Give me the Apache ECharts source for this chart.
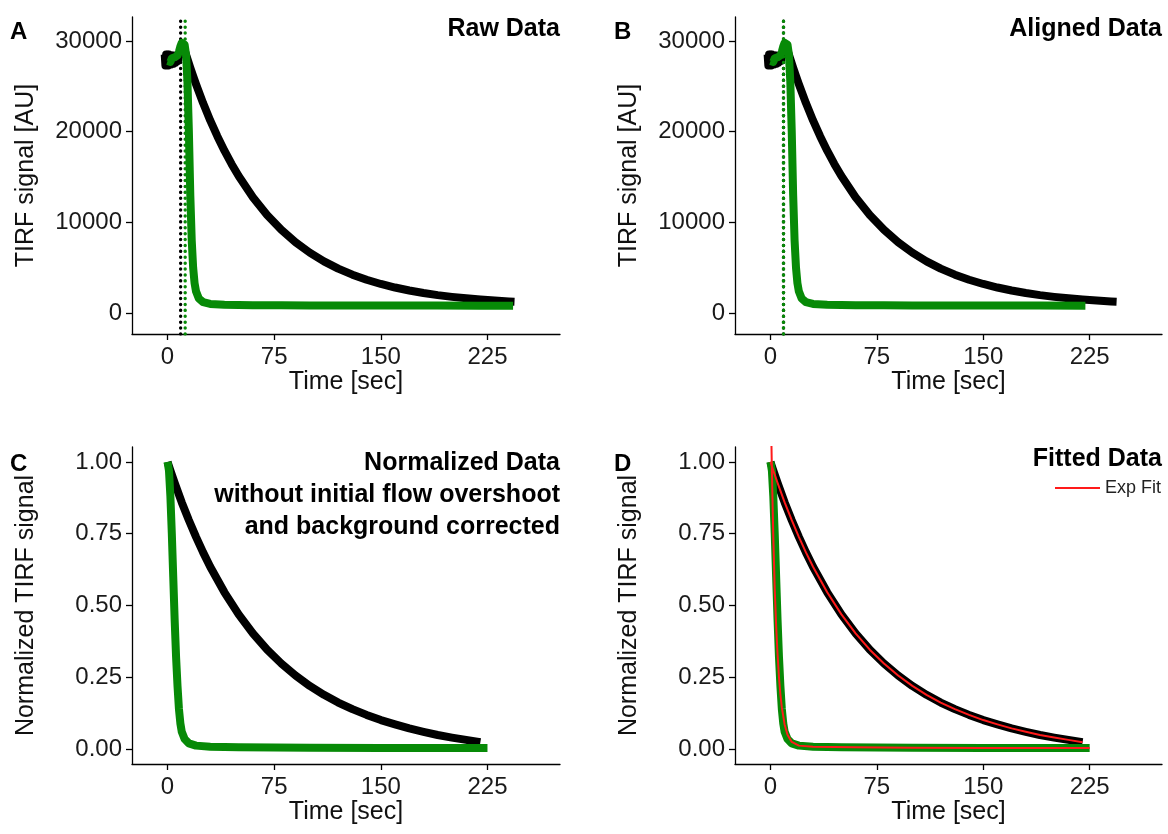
<!DOCTYPE html>
<html><head><meta charset="utf-8">
<script src="https://cdn.jsdelivr.net/npm/echarts@6/dist/echarts.min.js"></script>
<style>html,body{margin:0;padding:0;background:#fff}#c{width:1168px;height:834px}</style>
</head><body><div id="c"></div>
<script>
// ---------- data ----------
const timeTicks = [0, 75, 150, 225];
const rawTicks = [0, 10000, 20000, 30000];
const normTicks = [0, 0.25, 0.5, 0.75, 1.0];

const tRawBlack = [-2,-1.5,-1,-0.5,0,0.5,1,1.5,2,2.5,3,3.5,4,4.5,5,5.5,6,6.5,7,7.5,8,9,10,11,12,14,16,18,20,25,30,35,40,45,50,60,70,80,90,100,110,120,130,140,150,160,170,180,190,200,210,220,230,240,244];
const vRawBlack = [28500,27300,28500,27300,28500,27300,28500,27400,28400,27400,28400,27500,28400,27500,28300,27600,28300,27700,28300,27900,28300,28700,29200,29300,28990,28010,27050,26130,25240,23150,21240,19500,17900,16440,15100,12770,10810,9170,7800,6660,5700,4900,4230,3670,3200,2810,2480,2200,1970,1780,1620,1490,1370,1280,1250];

const tRawGreen = [0,1,2,3,4,5,6,7,8,9,10,11,12,13,14,15,16,17,18,19,20,22,25,30,40,60,80,100,130,160,190,220,243];
const vRawGreen = [27800,28000,27700,28100,27900,28200,28000,28400,28800,29400,29800,29900,29600,28500,25500,20000,13000,8000,5000,3300,2400,1600,1200,1000,900,860,850,840,830,820,820,810,800];

const tAlignGreen = [0,1,2,3,4,5,6,7,8,9,10,11,12,13,14,15,16,17,18,19,20,22,25,30,40,60,80,100,130,160,190,222];
const vAlignGreen = [27800,28000,27700,28100,27900,28200,28000,28400,28800,29400,29800,29900,29600,28500,25500,20000,13000,8000,5000,3300,2400,1600,1200,1000,900,860,850,840,830,820,820,810];

const vlineRawBlack = 9.2;
const vlineRawGreen = 12.4;
const vlineAlign = 9.2;

const tNormBlack = [0,2,5,10,15,20,25,30,40,50,60,70,80,90,100,110,120,130,140,150,160,170,180,190,200,210,220];
const vNormBlack = [1.0,0.97,0.927,0.859,0.797,0.739,0.685,0.635,0.546,0.469,0.403,0.346,0.298,0.256,0.220,0.189,0.162,0.139,0.119,0.101,0.086,0.072,0.060,0.049,0.040,0.032,0.024];

const tNormGreen = [0,1,2,3,4,5,6,7,8,9,10,12,15,20,30,50,100,150,200,225];
const vNormGreen = [1.0,0.97,0.88,0.75,0.6,0.45,0.32,0.22,0.14,0.09,0.06,0.035,0.02,0.012,0.008,0.006,0.005,0.004,0.004,0.004];

const tFitBlack = [0,2,5,10,15,20,25,30,40,50,60,70,80,90,100,110,120,130,140,150,160,170,180,190,200,210,220];
const vFitBlack = [1.0,0.97,0.927,0.859,0.797,0.739,0.685,0.635,0.546,0.469,0.403,0.346,0.298,0.256,0.220,0.189,0.162,0.139,0.119,0.101,0.086,0.072,0.060,0.049,0.040,0.032,0.024];

const tFitGreen = [0,0.5,1,2,3,4,5,6,7,8,10,12,15,20,30,60,100,150,200,225];
const vFitGreen = [1.3,1.12,0.97,0.74,0.56,0.43,0.33,0.25,0.19,0.145,0.085,0.05,0.025,0.012,0.008,0.006,0.005,0.004,0.004,0.004];

// ---------- helpers ----------
const FONT = 'Liberation Sans, Arial, sans-serif';
const zip = (t, v) => t.map((x, i) => [x, v[i]]);
const BLACK = '#000000', GREEN = '#078a07', RED = '#ff1a1a';

function xAxis(grid) {
  return {
    type: 'value', gridIndex: grid, min: -25, max: 276,
    name: 'Time [sec]', nameLocation: 'middle', nameGap: 36,
    nameTextStyle: {fontFamily: FONT, fontSize: 25, color: '#111'},
    axisLine: {onZero: false, lineStyle: {color: '#000', width: 1.3}},
    axisTick: {length: 6, lineStyle: {color: '#000', width: 1.3}, customValues: timeTicks},
    axisLabel: {fontFamily: FONT, fontSize: 24, color: '#1a1a1a', margin: 11, customValues: timeTicks},
    splitLine: {show: false}
  };
}
function yAxis(grid, raw) {
  return {
    type: 'value', gridIndex: grid,
    min: raw ? -2316 : -0.052, max: raw ? 32646 : 1.052,
    name: raw ? 'TIRF signal [AU]' : 'Normalized TIRF signal',
    nameLocation: 'middle', nameRotate: 90, nameGap: 93,
    nameTextStyle: {fontFamily: FONT, fontSize: 25, color: '#111'},
    axisLine: {show: true, onZero: false, lineStyle: {color: '#000', width: 1.3}},
    axisTick: {show: true, length: 6, lineStyle: {color: '#000', width: 1.3}, customValues: raw ? rawTicks : normTicks},
    axisLabel: {fontFamily: FONT, fontSize: 24, color: '#1a1a1a', margin: 10,
      customValues: raw ? rawTicks : normTicks,
      formatter: raw ? (v => String(v)) : (v => v.toFixed(2))},
    splitLine: {show: false}
  };
}
function line(name, xi, data, color, width, extra) {
  return Object.assign({
    name: name, type: 'line', xAxisIndex: xi, yAxisIndex: xi, data: data,
    showSymbol: false, symbol: 'none', clip: true, silent: true, animation: false,
    lineStyle: {color: color, width: width, cap: 'butt', join: 'round'}, itemStyle: {color: color}
  }, extra || {});
}
function vline(xi, x, color, raw) {
  const lo = raw ? -2316 : -0.052, hi = raw ? 32646 : 1.052;
  return line('vl', xi, [[x, lo], [x, hi]], color, 3.4, {lineStyle: {color: color, width: 3.4, type: [0.1, 5.8], cap: 'round'}});
}

const grids = [
  {left: 132, top: 17, width: 428, height: 317},
  {left: 735, top: 17, width: 427, height: 317},
  {left: 132, top: 447, width: 428, height: 317},
  {left: 735, top: 447, width: 427, height: 317}
];

const option = {
  backgroundColor: '#fff',
  animation: false,
  grid: grids,
  xAxis: [xAxis(0), xAxis(1), xAxis(2), xAxis(3)],
  yAxis: [yAxis(0, true), yAxis(1, true), yAxis(2, false), yAxis(3, false)],
  legend: {
    data: ['Exp Fit'], left: 1050, top: 474, icon: 'rect', itemWidth: 45, itemHeight: 2, itemGap: 6,
    textStyle: {fontFamily: FONT, fontSize: 18, color: '#222'}
  },
  series: [
    line('Raw black', 0, zip(tRawBlack, vRawBlack), BLACK, 8),
    vline(0, vlineRawBlack, BLACK, true),
    vline(0, vlineRawGreen, GREEN, true),
    line('Raw green', 0, zip(tRawGreen, vRawGreen), GREEN, 8),

    line('Aligned black', 1, zip(tRawBlack, vRawBlack), BLACK, 8),
    vline(1, vlineAlign, BLACK, true),
    vline(1, vlineAlign, GREEN, true),
    line('Aligned green', 1, zip(tAlignGreen, vAlignGreen), GREEN, 8),

    line('Norm black', 2, zip(tNormBlack, vNormBlack), BLACK, 8),
    line('Norm green', 2, zip(tNormGreen, vNormGreen), GREEN, 8),

    line('Fit black data', 3, zip(tNormBlack, vNormBlack), BLACK, 8),
    line('Fit green data', 3, zip(tNormGreen, vNormGreen), GREEN, 8),
    line('Exp Fit', 3, zip(tFitBlack, vFitBlack), RED, 2),
    line('Exp Fit', 3, zip(tFitGreen, vFitGreen), RED, 2)
  ],
  graphic: [
    {type: 'text', x: 10, y: 20, style: {text: 'A', font: 'bold 24px ' + FONT, fill: '#000'}},
    {type: 'text', x: 614, y: 20, style: {text: 'B', font: 'bold 24px ' + FONT, fill: '#000'}},
    {type: 'text', x: 10, y: 452, style: {text: 'C', font: 'bold 24px ' + FONT, fill: '#000'}},
    {type: 'text', x: 614, y: 452, style: {text: 'D', font: 'bold 24px ' + FONT, fill: '#000'}},
    {type: 'text', x: 560, y: 17, style: {text: 'Raw Data', textAlign: 'right', font: 'bold 25px ' + FONT, fill: '#000'}},
    {type: 'text', x: 1162, y: 17, style: {text: 'Aligned Data', textAlign: 'right', font: 'bold 25px ' + FONT, fill: '#000'}},
    {type: 'text', x: 560, y: 447, style: {text: 'Normalized Data\nwithout initial flow overshoot\nand background corrected', textAlign: 'right', lineHeight: 32, font: 'bold 25px ' + FONT, fill: '#000'}},
    {type: 'text', x: 1162, y: 447, style: {text: 'Fitted Data', textAlign: 'right', font: 'bold 25px ' + FONT, fill: '#000'}}
  ]
};
const chart = echarts.init(document.getElementById('c'), null, {renderer: 'canvas'});
chart.setOption(option);
</script></body></html>
